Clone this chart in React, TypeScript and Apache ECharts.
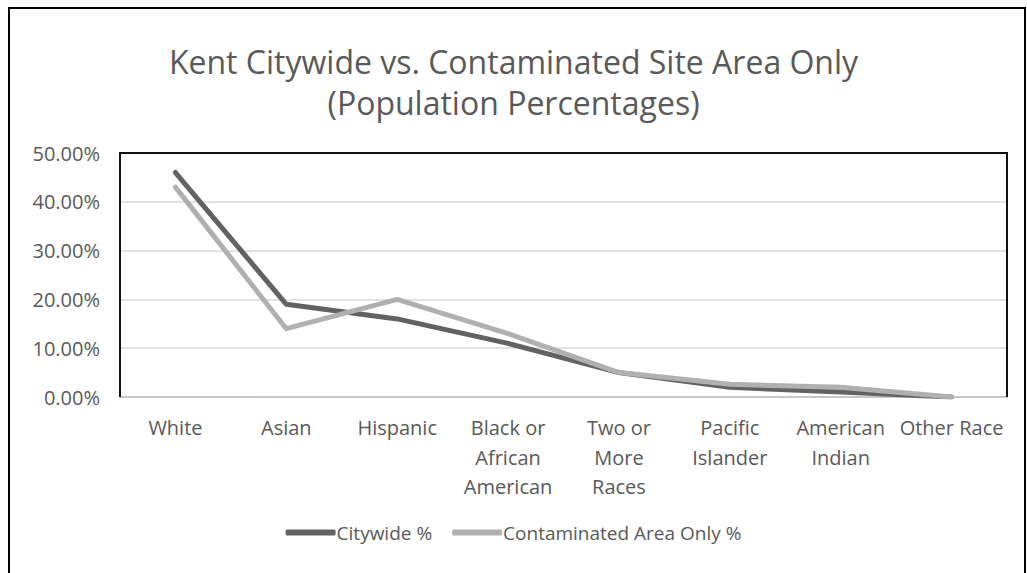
import React, { useEffect, useRef } from "react";
import * as echarts from "echarts";

const categories = [
  "White",
  "Asian",
  "Hispanic",
  "Black or\nAfrican\nAmerican",
  "Two or\nMore\nRaces",
  "Pacific\nIslander",
  "American\nIndian",
  "Other Race",
];
const citywide = [46, 19, 16, 11, 5, 2, 1, 0];
const contaminated = [43, 14, 20, 13, 5, 2.6, 2, 0];
const seriesNames = ["Citywide %", "Contaminated Area Only %"];
const yTicks = { min: 0, max: 50, interval: 10 };

const FONT = "'Open Sans', sans-serif";
const TEXT = "#595959";
const G = { left: 120, top: 153, right: 20, bottom: 176 };

export default function App() {
  const ref = useRef<HTMLDivElement>(null);
  useEffect(() => {
    const chart = echarts.init(ref.current!, null, { renderer: "svg" });
    const W = 1027, H = 573;
    const x0 = G.left, x1 = W - G.right, y0 = G.top, y1 = H - G.bottom;
    chart.setOption({
      animation: false,
      textStyle: { fontFamily: FONT },
      title: {
        text: "Kent Citywide vs. Contaminated Site Area Only\n(Population Percentages)",
        left: "center",
        top: 36,
        textStyle: {
          fontFamily: FONT,
          fontSize: 32,
          fontWeight: "normal",
          color: TEXT,
          lineHeight: 41,
        },
      },
      graphic: [
        {
          type: "rect",
          shape: { x: 9, y: 8, width: 1016, height: 600 },
          style: { fill: "none", stroke: "#000", lineWidth: 2 },
          silent: true,
        },
        {
          type: "polyline",
          shape: { points: [[x0, y1], [x0, y0], [x1, y0], [x1, y1]] },
          style: { fill: "none", stroke: "#111", lineWidth: 2 },
          silent: true,
          z: 10,
        },
      ],
      legend: {
        bottom: 26,
        left: "center",
        icon: "roundRect",
        itemWidth: 50,
        itemHeight: 6,
        itemGap: 20,
        textStyle: { fontFamily: FONT, fontSize: 19, color: TEXT, padding: [0, 0, 0, -4] },
        data: seriesNames,
      },
      grid: {
        left: G.left,
        top: G.top,
        right: G.right,
        bottom: G.bottom,
        show: false,
        containLabel: false,
      },
      xAxis: {
        type: "category",
        data: categories,
        boundaryGap: true,
        axisLine: { show: true, lineStyle: { color: "#bfbfbf", width: 1.5 } },
        axisTick: { show: false },
        axisLabel: {
          color: TEXT,
          fontFamily: FONT,
          fontSize: 20,
          margin: 16,
          lineHeight: 29.5,
          interval: 0,
        },
      },
      yAxis: {
        type: "value",
        min: yTicks.min,
        max: yTicks.max,
        interval: yTicks.interval,
        axisLine: { show: false },
        axisTick: { show: false },
        splitLine: { lineStyle: { color: "#d9d9d9", width: 1.5 } },
        axisLabel: {
          color: TEXT,
          fontFamily: FONT,
          fontSize: 20,
          margin: 20,
          formatter: (v: number) => v.toFixed(2) + "%",
        },
      },
      series: [
        {
          name: seriesNames[0],
          type: "line",
          data: citywide,
          showSymbol: false,
          symbol: "none",
          lineStyle: { color: "#626262", width: 5, cap: "round", join: "round" },
          itemStyle: { color: "#626262" },
          z: 3,
        },
        {
          name: seriesNames[1],
          type: "line",
          data: contaminated,
          showSymbol: false,
          symbol: "none",
          lineStyle: { color: "#b0b0b0", width: 5, cap: "round", join: "round" },
          itemStyle: { color: "#b0b0b0" },
          z: 4,
        },
      ],
    });
    return () => chart.dispose();
  }, []);
  return (
    <div
      ref={ref}
      style={{ position: "absolute", left: 0, top: 0, width: 1027, height: 573, background: "#fff" }}
    />
  );
}
